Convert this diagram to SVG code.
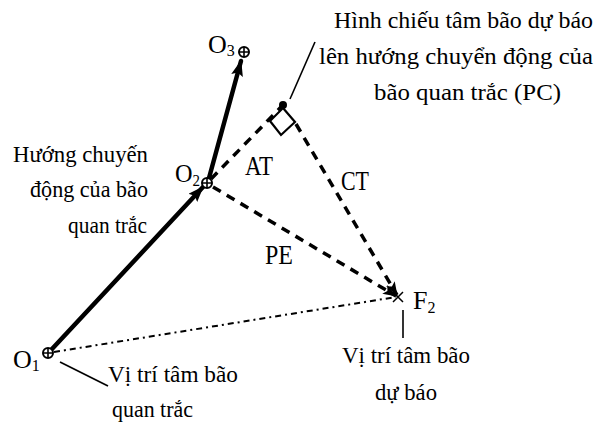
<svg xmlns="http://www.w3.org/2000/svg" width="612" height="428" viewBox="0 0 612 428">
<style>
text{font-family:"Liberation Serif","Times New Roman",serif;fill:#000}
.t{font-size:23px}
.t24{font-size:24px}
.lbl{font-size:27px}
.o{font-size:26px}
.sub{font-size:16px}
.thick{stroke:#000;stroke-width:4.5;fill:none;stroke-linecap:round}
.dash{stroke:#000;stroke-width:3.5;fill:none;stroke-dasharray:9 7}
.dd{stroke:#000;stroke-width:2;fill:none;stroke-dasharray:6 4 2 4}
.lead{stroke:#000;stroke-width:1.6;fill:none}
.pt circle{fill:#fff;stroke:#000;stroke-width:2}
.pt path{stroke:#000;stroke-width:1.6}
</style>
<defs>
<marker id="ahBig" viewBox="0 0 16 12" refX="15" refY="6" markerWidth="16" markerHeight="12" markerUnits="userSpaceOnUse" orient="auto">
<path d="M0,0 L16,6 L0,12 L3,6 z" fill="#000"/>
</marker>
<marker id="ah" viewBox="0 0 14 10" refX="13" refY="5" markerWidth="14" markerHeight="10" markerUnits="userSpaceOnUse" orient="auto">
<path d="M0,0 L14,5 L0,10 L3,5 z" fill="#000"/>
</marker>
</defs>
<g id="connectors">
<path class="dd" d="M54,352 L396,297"/>
<path class="thick" d="M52,349 L203,187" marker-end="url(#ahBig)"/>
<path class="thick" d="M209,178 L241,61" marker-end="url(#ahBig)"/>
<path class="dash" d="M211,179 L281,107"/>
<path class="dash" d="M296,124 L397,295" marker-end="url(#ah)"/>
<path class="dash" d="M213,187 L396,296" marker-end="url(#ah)"/>
<path class="lead" d="M290,99 L315,42"/>
<path class="lead" d="M60,362 L108,386"/>
<path class="lead" d="M403,310 L403,338"/>
</g>
<g id="PC">
<polygon points="283,108 295,122 281,135 270,121" fill="#fff" stroke="#000" stroke-width="2.2"/>
<circle cx="283" cy="105" r="4" fill="#000"/>
</g>
<g id="O1" class="pt">
<circle cx="48" cy="353" r="5"/>
<path d="M43,353 H53 M48,348 V358"/>
<text class="o" x="13" y="368">O<tspan class="sub" dy="3">1</tspan></text>
</g>
<g id="O2" class="pt">
<circle cx="207" cy="183" r="5"/>
<path d="M202,183 H212 M207,178 V188"/>
<text class="o" x="175" y="182" textLength="25" lengthAdjust="spacingAndGlyphs">O<tspan class="sub" dy="4">2</tspan></text>
</g>
<g id="O3" class="pt">
<circle cx="244" cy="52" r="5"/>
<path d="M239,52 H249 M244,47 V57"/>
<text class="o" x="208" y="53">O<tspan class="sub" dy="3">3</tspan></text>
</g>
<g id="F2">
<path d="M393,292 L403,302 M403,292 L393,302" stroke="#000" stroke-width="1.5"/>
<text class="o" x="413" y="309">F<tspan class="sub" dy="4">2</tspan></text>
</g>
<g id="labels">
<text class="lbl" x="245" y="175" textLength="28" lengthAdjust="spacingAndGlyphs">AT</text>
<text class="lbl" x="341" y="190" textLength="28" lengthAdjust="spacingAndGlyphs">CT</text>
<text class="lbl" x="265" y="264" textLength="28" lengthAdjust="spacingAndGlyphs">PE</text>
</g>
<g id="note-PC">
<text class="t24" x="334" y="28" textLength="259" lengthAdjust="spacingAndGlyphs">Hình chiếu tâm bão dự báo</text>
<text class="t24" x="319" y="64" textLength="274" lengthAdjust="spacingAndGlyphs">lên hướng chuyển động của</text>
<text class="t24" x="374" y="100" textLength="187" lengthAdjust="spacingAndGlyphs">bão quan trắc (PC)</text>
</g>
<g id="note-direction">
<text class="t" x="13" y="162" textLength="135" lengthAdjust="spacingAndGlyphs">Hướng chuyến</text>
<text class="t" x="30" y="197" textLength="118" lengthAdjust="spacingAndGlyphs">động của bão</text>
<text class="t" x="68" y="233" textLength="79" lengthAdjust="spacingAndGlyphs">quan trắc</text>
</g>
<g id="note-O1">
<text class="t" x="108" y="382" textLength="130" lengthAdjust="spacingAndGlyphs">Vị trí tâm bão</text>
<text class="t" x="112" y="417" textLength="81" lengthAdjust="spacingAndGlyphs">quan trắc</text>
</g>
<g id="note-F2">
<text class="t" x="342" y="363" textLength="128" lengthAdjust="spacingAndGlyphs">Vị trí tâm bão</text>
<text class="t" x="375" y="400" textLength="62" lengthAdjust="spacingAndGlyphs">dự báo</text>
</g>
</svg>
